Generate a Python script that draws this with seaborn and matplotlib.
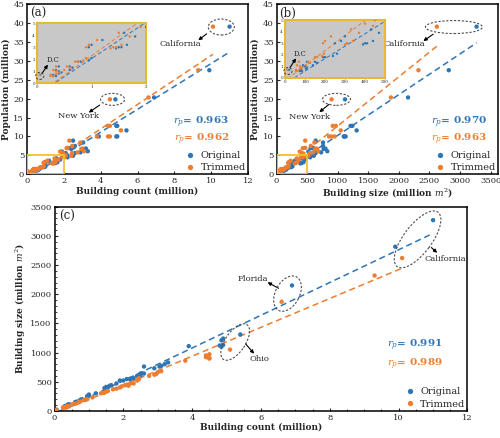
import pandas as pd
import matplotlib
matplotlib.use("Agg")
import matplotlib.pyplot as plt
import matplotlib.transforms as mtransforms
from matplotlib.patches import Ellipse, Rectangle
from matplotlib.ticker import MultipleLocator, AutoMinorLocator
import seaborn as sns

##### Data (one value per state)

states = ["CA", "TX", "FL", "NY", "PA", "IL", "OH", "GA", "NC", "MI",
          "NJ", "VA", "WA", "AZ", "MA", "TN", "IN", "MO", "MD", "WI",
          "CO", "MN", "SC", "AL", "LA", "KY", "OR", "OK", "CT", "UT",
          "IA", "NV", "AR", "MS", "KS", "NM", "NE", "WV", "ID", "HI",
          "NH", "ME", "MT", "RI", "DE", "SD", "ND", "AK", "DC", "VT", "WY"]
population = [39.0, 27.5, 20.3, 19.8, 12.8, 12.8, 11.6, 10.0, 10.0, 10.0,
              8.9, 8.4, 7.5, 7.0, 6.9, 6.8, 6.7, 6.1, 6.0, 5.8,
              5.6, 5.6, 5.0, 4.9, 4.7, 4.5, 4.2, 3.9, 3.6, 3.2,
              3.2, 3.0, 3.0, 3.0, 2.9, 2.1, 1.9, 1.8, 1.8, 1.4,
              1.4, 1.3, 1.1, 1.1, 1.0, 0.9, 0.8, 0.7, 0.7, 0.6, 0.6]
count_original = [11.0, 9.9, 6.9, 4.8, 4.85, 4.9, 5.4, 3.9, 4.9, 4.85,
                  2.5, 3.05, 2.6, 2.4, 2.3, 3.2, 3.1, 3.3, 1.9, 2.9,
                  2.1, 2.6, 2.2, 2.5, 2.0, 2.2, 1.6, 1.8, 1.2, 1.0,
                  1.65, 0.95, 1.5, 1.55, 1.45, 1.0, 0.95, 0.75, 0.8, 0.4,
                  0.6, 0.65, 0.6, 0.35, 0.4, 0.45, 0.4, 0.3, 0.06, 0.35, 0.3]
count_trimmed = [10.1, 9.3, 6.6, 4.5, 4.4, 4.5, 5.1, 3.8, 4.4, 4.5,
                 2.3, 2.9, 2.45, 2.2, 2.15, 3.0, 2.95, 3.1, 1.8, 2.75,
                 1.95, 2.45, 2.1, 2.4, 1.9, 2.05, 1.5, 1.7, 1.1, 0.95,
                 1.55, 0.9, 1.4, 1.45, 1.35, 0.9, 0.85, 0.7, 0.75, 0.35,
                 0.55, 0.6, 0.5, 0.3, 0.35, 0.4, 0.35, 0.25, 0.05, 0.3, 0.25]
size_original = [3270, 2815, 2150, 1120, 1210, 1240, 1310, 1110, 1130, 1100,
                 640, 760, 760, 600, 560, 800, 770, 830, 520, 730,
                 545, 640, 540, 610, 520, 550, 430, 470, 300, 280,
                 440, 250, 410, 400, 390, 260, 240, 190, 200, 110,
                 150, 160, 140, 90, 100, 110, 105, 80, 20, 85, 75]
size_trimmed = [2620, 2320, 1870, 900, 920, 970, 1050, 860, 950, 900,
                470, 620, 560, 470, 430, 660, 630, 680, 380, 600,
                420, 540, 450, 520, 400, 440, 330, 370, 230, 200,
                340, 190, 310, 310, 300, 195, 185, 150, 160, 70,
                115, 125, 105, 60, 75, 85, 75, 55, 12, 62, 55]

types = ["Original", "Trimmed"]
r_a = ["0.963", "0.962"]
r_b = ["0.970", "0.963"]
r_c = ["0.991", "0.989"]

palette = {"Original": "#2e75b6", "Trimmed": "#ed7d31"}

n = len(states)
df = pd.DataFrame({
    "State": states * 2,
    "Population": population * 2,
    "Count": count_original + count_trimmed,
    "Size": size_original + size_trimmed,
    "Type": ["Original"] * n + ["Trimmed"] * n,
})

##### Style

sns.set_style("ticks")
plt.rcParams["font.family"] = ["DejaVu Serif"]
plt.rcParams["mathtext.fontset"] = "dejavuserif"

fig = plt.figure(figsize=(5, 4.38), dpi=100)
ax_a = fig.add_axes([0.054, 0.602, 0.442, 0.389])
ax_b = fig.add_axes([0.553, 0.602, 0.443, 0.389])
ax_c = fig.add_axes([0.109, 0.062, 0.826, 0.466])
in_a = fig.add_axes([0.074, 0.81, 0.218, 0.137])
in_b = fig.add_axes([0.570, 0.822, 0.200, 0.132])


def draw(ax, x, y, s=10, lw=1.1, legend=False):
    sns.scatterplot(data=df, x=x, y=y, hue="Type", palette=palette, s=s,
                    linewidth=0, ax=ax, legend=legend, zorder=3)
    for t in types:
        sub = df[df["Type"] == t]
        sns.regplot(data=sub, x=x, y=y, scatter=False, ci=None, ax=ax,
                    color=palette[t], line_kws=dict(ls=(0, (4, 2.5)), lw=lw))


def ring(ax, cx, cy, w, h, angle=0):
    tr = fig.dpi_scale_trans + mtransforms.ScaledTranslation(cx, cy, ax.transData)
    ax.add_patch(Ellipse((0, 0), w / 100, h / 100, angle=angle, transform=tr,
                         fill=False, ec="0.3", ls=(0, (2, 1.5)), lw=0.8,
                         clip_on=False, zorder=5))


def arrow(ax, start, end):
    ax.annotate("", xy=end, xytext=start,
                arrowprops=dict(arrowstyle="-|>", color="k", lw=0.8,
                                mutation_scale=5, shrinkA=0, shrinkB=0))


def finish(ax, xlabel, ylabel, letter, rvals, rx, ry):
    ax.set_xlabel(xlabel, fontsize=6.5, fontweight="bold", labelpad=1)
    ax.set_ylabel(ylabel, fontsize=6.5, fontweight="bold", labelpad=2)
    ax.tick_params(labelsize=6, direction="in", length=2.5, pad=2)
    for sp in ax.spines.values():
        sp.set_visible(True)
        sp.set_linewidth(1.1)
        sp.set_color("k")
    ax.text(0.012, 0.985, letter, transform=ax.transAxes, fontsize=8.5,
            va="top", ha="left")
    for i, t in enumerate(types):
        ax.text(rx, ry[i], r"$r_p$= " + rvals[i], transform=ax.transAxes,
                color=palette[t], fontsize=7.5, fontweight="bold", ha="right", va="center")
    sns.move_legend(ax, "lower right", title=None, frameon=False, fontsize=7,
                    handletextpad=0.1, markerscale=1.2, borderaxespad=0.1,
                    borderpad=0.1, labelspacing=0.35)


##### (a) Building count vs population

draw(ax_a, "Count", "Population", legend=True)
ax_a.set_xlim(0, 12)
ax_a.set_ylim(0, 45)
ax_a.xaxis.set_major_locator(MultipleLocator(2))
ax_a.yaxis.set_major_locator(MultipleLocator(5))
ax_a.add_patch(Rectangle((0, 0), 2, 5, fill=False, ec="#f2c230", lw=1.3, zorder=4))
ring(ax_a, 10.55, 38.9, 26, 16)
ring(ax_a, 4.65, 19.8, 24, 12)
ax_a.text(8.3, 34.4, "California", fontsize=6, ha="center", va="center")
arrow(ax_a, (9.75, 37.1), (9.3, 35.4))
ax_a.text(2.8, 15.4, "New York", fontsize=6, ha="center", va="center")
arrow(ax_a, (3.95, 18.3), (3.35, 16.3))
finish(ax_a, "Building count (million)", "Population (million)", "(a)",
       r_a, 0.915, [0.305, 0.205])

##### (b) Building size vs population

draw(ax_b, "Size", "Population", legend=True)
ax_b.set_xlim(0, 3620)
ax_b.set_ylim(0, 45)
ax_b.set_xticks(range(0, 3501, 500))
ax_b.yaxis.set_major_locator(MultipleLocator(5))
ax_b.add_patch(Rectangle((0, 0), 500, 5, fill=False, ec="#f2c230", lw=1.3, zorder=4))
ring(ax_b, 2900, 38.9, 57, 13)
ring(ax_b, 980, 19.8, 28, 12)
ax_b.text(2090, 34.4, "California", fontsize=6, ha="center", va="center")
arrow(ax_b, (2560, 37.0), (2400, 35.2))
ax_b.text(540, 15.2, "New York", fontsize=6, ha="center", va="center")
arrow(ax_b, (860, 18.5), (700, 16.4))
finish(ax_b, "Building size (million $m^2$)", "Population (million)", "(b)",
       r_b, 0.95, [0.305, 0.205])

##### Insets

for ax_in, x, xmax, step in [(in_a, "Count", 2, 1), (in_b, "Size", 500, 100)]:
    draw(ax_in, x, "Population", s=3, lw=0.7)
    ax_in.set_xlim(0, xmax)
    ax_in.set_ylim(0, 5)
    ax_in.xaxis.set_major_locator(MultipleLocator(step))
    ax_in.yaxis.set_major_locator(MultipleLocator(1))
    ax_in.set_facecolor("#c8c8c8")
    ax_in.set_xlabel("")
    ax_in.set_ylabel("")
    ax_in.tick_params(labelsize=3, length=1, pad=0.5, width=0.4)
    for sp in ax_in.spines.values():
        sp.set_visible(True)
        sp.set_color("#e8b830")
        sp.set_linewidth(1.5)

ring(in_a, 0.05, 0.6, 8, 7)
in_a.text(0.3, 1.9, "D.C", fontsize=5, ha="center", va="center")
arrow(in_a, (0.09, 0.8), (0.2, 1.55))
ring(in_b, 15, 0.6, 8, 7)
in_b.text(75, 2.1, "D.C", fontsize=5, ha="center", va="center")
arrow(in_b, (25, 0.9), (55, 1.7))

##### (c) Building count vs building size

draw(ax_c, "Count", "Size", legend=True)
ax_c.set_xlim(0, 12)
ax_c.set_ylim(0, 3500)
ax_c.xaxis.set_major_locator(MultipleLocator(2))
ax_c.yaxis.set_major_locator(MultipleLocator(500))
ax_c.xaxis.set_minor_locator(AutoMinorLocator(4))
ax_c.yaxis.set_minor_locator(AutoMinorLocator(5))
ax_c.tick_params(which="minor", direction="in", length=1.5)
ring(ax_c, 6.77, 2010, 38, 24, 62)
ring(ax_c, 5.25, 1180, 42, 20, 56)
ring(ax_c, 10.55, 2940, 68, 28, 53)
ax_c.text(5.75, 2260, "Florida", fontsize=6, ha="center", va="center")
arrow(ax_c, (6.51, 2102), (6.19, 2205))
ax_c.text(5.96, 886, "Ohio", fontsize=6, ha="center", va="center")
arrow(ax_c, (5.55, 1150), (5.8, 980))
ax_c.text(11.36, 2604, "California", fontsize=6, ha="center", va="center")
arrow(ax_c, (10.95, 2800), (11.12, 2710))
finish(ax_c, "Building count (million)", "Building size (million $m^2$)", "(c)",
       r_c, 0.94, [0.32, 0.225])

fig.savefig("out.png", dpi=100)
